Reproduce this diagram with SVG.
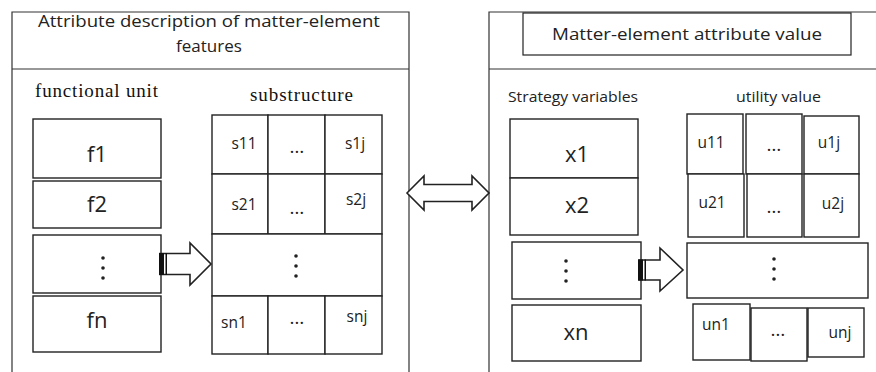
<svg xmlns="http://www.w3.org/2000/svg" width="876" height="372" viewBox="0 0 876 372">
<style>
.panel{fill:none;stroke:#333;stroke-width:1.2}
.box{fill:#fff;stroke:#222;stroke-width:1.4}
.hd{font-family:"Open Sans","Liberation Sans",Arial,sans-serif;font-size:17px;fill:#222;text-anchor:middle}
.lbl{font-family:"Open Sans","Liberation Sans",Arial,sans-serif;font-size:15px;fill:#222;text-anchor:middle}
.ser{font-family:"Liberation Serif","Times New Roman",serif;font-size:19px;fill:#111;text-anchor:middle}
.big{font-family:"Open Sans","Liberation Sans",Arial,sans-serif;font-size:22px;fill:#222;text-anchor:middle}
.sm{font-family:"Open Sans","Liberation Sans",Arial,sans-serif;font-size:15.5px;fill:#222;text-anchor:middle}
.ell{font-family:"Open Sans","Liberation Sans",Arial,sans-serif;font-size:19px;fill:#222;text-anchor:middle}
.dots{fill:#222}
.arr{fill:#fff;stroke:#222;stroke-width:1.6;stroke-linejoin:miter}
</style>
<defs>
<g id="vdots"><circle cx="0" cy="-10" r="1.8"/><circle cx="0" cy="0" r="1.8"/><circle cx="0" cy="10" r="1.8"/></g>
</defs>
<rect width="876" height="372" fill="#fff"/>

<g id="panel-left">
<path class="panel" d="M12,372 V12 H409 V372 M12,69 H409"/>
<text class="hd" x="209" y="27" textLength="342" lengthAdjust="spacingAndGlyphs">Attribute description of matter-element</text>
<text class="hd" x="209" y="52">features</text>
</g>

<g id="panel-right">
<path class="panel" d="M489,372 V12 H876 M489,69 H876"/>
</g>
<g id="title-right">
<rect class="box" x="523" y="13" width="328" height="42" style="stroke-width:1.2"/>
<text class="hd" x="687" y="40" textLength="270" lengthAdjust="spacingAndGlyphs">Matter-element attribute value</text>
</g>

<g id="label-functional-unit"><text class="ser" x="96.5" y="97" textLength="123" lengthAdjust="spacing">functional unit</text></g>
<g id="label-substructure"><text class="ser" x="301.5" y="101" textLength="103" lengthAdjust="spacing">substructure</text></g>
<g id="label-strategy"><text class="lbl" x="573" y="102" textLength="130" lengthAdjust="spacingAndGlyphs">Strategy variables</text></g>
<g id="label-utility"><text class="lbl" x="778.5" y="102" textLength="85" lengthAdjust="spacingAndGlyphs">utility value</text></g>

<g id="f1"><rect class="box" x="33" y="119" width="128" height="59"/><text class="big" x="97" y="162">f1</text></g>
<g id="f2"><rect class="box" x="33" y="181" width="128" height="47"/><text class="big" x="97" y="212">f2</text></g>
<g id="f-dots"><rect class="box" x="33" y="235" width="128" height="58"/><use href="#vdots" class="dots" x="103" y="268"/></g>
<g id="fn"><rect class="box" x="33" y="296" width="128" height="56"/><text class="big" x="97" y="328">fn</text></g>

<g id="s11"><rect class="box" x="212" y="115" width="56" height="59"/><text class="sm" x="244" y="149">s11</text></g>
<g id="s1-dots"><rect class="box" x="268" y="115" width="57" height="59"/><text class="ell" x="297" y="153">…</text></g>
<g id="s1j"><rect class="box" x="325" y="115" width="57" height="59"/><text class="sm" x="355" y="149">s1j</text></g>
<g id="s21"><rect class="box" x="212" y="174" width="56" height="60"/><text class="sm" x="244" y="210">s21</text></g>
<g id="s2-dots"><rect class="box" x="268" y="174" width="57" height="60"/><text class="ell" x="297" y="214">…</text></g>
<g id="s2j"><rect class="box" x="325" y="174" width="57" height="60"/><text class="sm" x="356" y="205">s2j</text></g>
<g id="s-dots"><rect class="box" x="212" y="234" width="170" height="62"/><use href="#vdots" class="dots" x="296" y="266"/></g>
<g id="sn1"><rect class="box" x="212" y="296" width="56" height="58"/><text class="sm" x="234" y="328">sn1</text></g>
<g id="sn-dots"><rect class="box" x="268" y="296" width="57" height="58"/><text class="ell" x="297" y="324">…</text></g>
<g id="snj"><rect class="box" x="325" y="296" width="57" height="58"/><text class="sm" x="357" y="322">snj</text></g>

<g id="x1"><rect class="box" x="510" y="119" width="128" height="59"/><text class="big" x="577" y="162">x1</text></g>
<g id="x2"><rect class="box" x="510" y="178" width="128" height="57"/><text class="big" x="577" y="213">x2</text></g>
<g id="x-dots"><rect class="box" x="512" y="242" width="129" height="57"/><use href="#vdots" class="dots" x="566" y="271"/></g>
<g id="xn"><rect class="box" x="512" y="305" width="129" height="56"/><text class="big" x="576" y="340">xn</text></g>

<g id="u11"><rect class="box" x="687" y="114" width="56" height="60"/><text class="sm" x="711" y="148">u11</text></g>
<g id="u1-dots"><rect class="box" x="746" y="114" width="56" height="60"/><text class="ell" x="774" y="151">…</text></g>
<g id="u1j"><rect class="box" x="804" y="116" width="55" height="58"/><text class="sm" x="829" y="148">u1j</text></g>
<g id="u21"><rect class="box" x="688" y="174" width="56" height="63"/><text class="sm" x="712" y="208">u21</text></g>
<g id="u2-dots"><rect class="box" x="747" y="174" width="55" height="63"/><text class="ell" x="774" y="213">…</text></g>
<g id="u2j"><rect class="box" x="804" y="174" width="55" height="63"/><text class="sm" x="833" y="209">u2j</text></g>
<g id="u-dots"><rect class="box" x="687" y="243" width="181" height="55"/><use href="#vdots" class="dots" x="774" y="269"/></g>
<g id="un1"><rect class="box" x="693" y="304" width="57" height="56"/><text class="sm" x="716" y="330">un1</text></g>
<g id="un-dots"><rect class="box" x="751" y="308" width="56" height="53"/><text class="ell" x="778" y="336">…</text></g>
<g id="unj"><rect class="box" x="808" y="308" width="56" height="49"/><text class="sm" x="840" y="338">unj</text></g>

<g id="connectors">
<path class="arr" d="M160,253.5 H190 V243 L211,264 L190,285 V274.5 H160 Z"/>
<rect x="159" y="253" width="5" height="22" fill="#111"/>
<rect x="165.5" y="253" width="1.5" height="22" fill="#111"/>
<path class="arr" d="M639,260 H660 V248 L683,270 L660,291 V280 H639 Z"/>
<rect x="638" y="259.5" width="5" height="21" fill="#111"/>
<rect x="644.5" y="259.5" width="1.5" height="21" fill="#111"/>
<path class="arr" d="M407,193 L424,176 V184.5 H472 V176 L489,193 L472,210 V201.5 H424 V210 Z"/>
</g>
</svg>
